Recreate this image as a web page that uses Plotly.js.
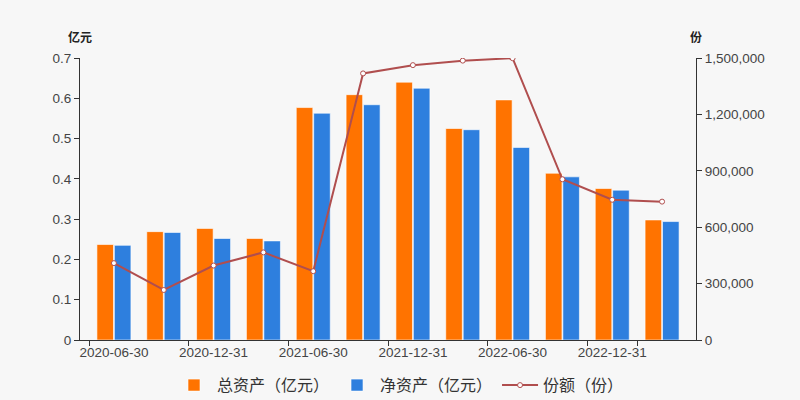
<!DOCTYPE html>
<html>
<head>
<meta charset="utf-8">
<script src="https://cdn.plot.ly/plotly-3.0.1.min.js"></script>
<style>
  html, body { margin: 0; padding: 0; background: #f7f7f7; }
  #chart { width: 800px; height: 400px; }
</style>
</head>
<body>
<div id="chart"></div>
<script>
// report dates (quarter ends)
let dates = ["2020-06-30", "2020-09-30", "2020-12-31", "2021-03-31", "2021-06-30", "2021-09-30",
             "2021-12-31", "2022-03-31", "2022-06-30", "2022-09-30", "2022-12-31", "2023-03-31"];
// only every other date gets a label
let labelDates = ["2020-06-30", "2020-12-31", "2021-06-30", "2021-12-31", "2022-06-30", "2022-12-31"];

let totalAssets = [0.237, 0.269, 0.277, 0.252, 0.577, 0.609, 0.640, 0.525, 0.596, 0.414, 0.376, 0.298]; // 亿元
let netAssets   = [0.235, 0.267, 0.252, 0.246, 0.563, 0.584, 0.625, 0.522, 0.478, 0.405, 0.372, 0.294]; // 亿元
let shares      = [409000, 266000, 396000, 466000, 366000, 1418000, 1462000, 1486000, 1499000, 855000, 746000, 736000]; // 份

let fontFam = "Liberation Sans, Noto Sans CJK SC, sans-serif";
let axisColor = "#333333";

let data = [
    {
        type: "bar",
        name: "总资产（亿元）",
        x: dates,
        y: totalAssets,
        marker: { color: "#ff7300", line: { color: "rgba(255,255,255,0.6)", width: 1 } },
        hoverinfo: "x+y"
    },
    {
        type: "bar",
        name: "净资产（亿元）",
        x: dates,
        y: netAssets,
        marker: { color: "#2e7fde", line: { color: "rgba(255,255,255,0.6)", width: 1 } },
        hoverinfo: "x+y"
    },
    {
        type: "scatter",
        mode: "lines+markers",
        name: "份额（份）",
        x: dates,
        y: shares,
        yaxis: "y2",
        line: { color: "#b04e4e", width: 2 },
        marker: { size: 5, color: "#ffffff", line: { color: "#b04e4e", width: 1 } },
        hoverinfo: "x+y"
    }
];

let layout = {
    width: 800,
    height: 400,
    paper_bgcolor: "#f7f7f7",
    plot_bgcolor: "#f7f7f7",
    font: { family: fontFam, size: 13, color: axisColor },
    margin: { l: 80, r: 104, t: 58, b: 60 },
    barmode: "group",
    bargap: 0.3,
    bargroupgap: 0.05,
    showlegend: true,
    legend: {
        orientation: "h",
        x: 0.5,
        xanchor: "center",
        xref: "container",
        yref: "container",
        y: 0.037,
        yanchor: "middle",
        font: { family: "Noto Sans CJK SC, sans-serif", size: 16, color: "#333" },
        itemwidth: 36,
        traceorder: "normal"
    },
    xaxis: {
        type: "category",
        tickmode: "array",
        tickvals: labelDates,
        ticktext: labelDates,
        tickson: "boundaries",
        tickangle: 0,
        automargin: false,
        ticks: "outside",
        ticklen: 5,
        tickcolor: axisColor,
        showline: true,
        linecolor: axisColor,
        linewidth: 1,
        showgrid: false,
        zeroline: false,
        tickfont: { size: 13.5, color: "#444" }
    },
    yaxis: {
        range: [0, 0.7],
        dtick: 0.1,
        automargin: false,
        ticks: "outside",
        ticklen: 5,
        tickcolor: axisColor,
        showline: true,
        linecolor: axisColor,
        showgrid: false,
        zeroline: false,
        tickfont: { size: 13.5, color: "#444" }
    },
    yaxis2: {
        overlaying: "y",
        side: "right",
        range: [0, 1500000],
        dtick: 300000,
        tickformat: ",d",
        automargin: false,
        ticks: "outside",
        ticklen: 5,
        tickcolor: axisColor,
        showline: true,
        linecolor: axisColor,
        showgrid: false,
        zeroline: false,
        tickfont: { size: 13.5, color: "#444" }
    },
    annotations: [
        {
            text: "<b>亿元</b>", xref: "paper", yref: "paper", x: 0, y: 1, yshift: 22,
            xanchor: "center", yanchor: "middle", showarrow: false,
            font: { family: "Noto Sans CJK SC, sans-serif", size: 12, color: "#222" }
        },
        {
            text: "<b>份</b>", xref: "paper", yref: "paper", x: 1, y: 1, yshift: 22,
            xanchor: "center", yanchor: "middle", showarrow: false,
            font: { family: "Noto Sans CJK SC, sans-serif", size: 12, color: "#222" }
        }
    ]
};

Plotly.newPlot("chart", data, layout, { displayModeBar: false });
</script>
</body>
</html>
